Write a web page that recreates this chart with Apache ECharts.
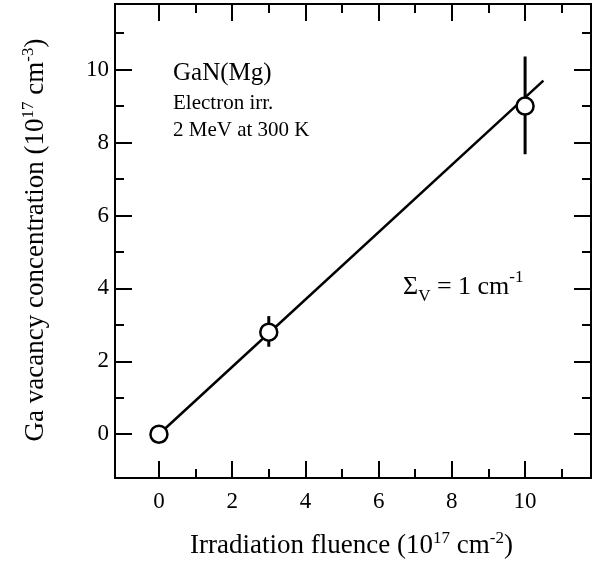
<!DOCTYPE html>
<html>
<head>
<meta charset="utf-8">
<script src="https://cdn.jsdelivr.net/npm/echarts@6/dist/echarts.min.js"></script>
<style>html,body{margin:0;padding:0;background:#fff}#c{width:597px;height:568px}</style>
</head>
<body>
<div id="c"></div>
<script>
// ---- data ----
const fluence = [0, 3, 10];
const concentration = [0, 2.8, 9.0];
const errLow = [0, 2.4, 7.68];
const errHigh = [0, 3.24, 10.36];
const fitX = [0, 10.5];
const fitY = [0, 9.7];
const xMajorTicks = [0, 2, 4, 6, 8, 10];
const xMinorTicks = [1, 3, 5, 7, 9, 11];
const yMajorTicks = [0, 2, 4, 6, 8, 10];
const yMinorTicks = [1, 3, 5, 7, 9, 11];
const xRange = [-1.2, 11.8];
const yRange = [-1.2, 11.8];

const FONT = '"Liberation Serif", "Times New Roman", serif';
const chart = echarts.init(document.getElementById('c'), null, {renderer: 'canvas'});

function mkAxis(kind, pos, ticks, len, labels, range) {
  return {
    type: 'value', position: pos, min: range[0], max: range[1],
    axisLine: {show: true, onZero: false, lineStyle: {color: '#000', width: 2}},
    axisTick: {show: true, inside: true, length: len, customValues: ticks, lineStyle: {color: '#000', width: 2}},
    axisLabel: labels ? {show: true, customValues: ticks, color: '#000', fontFamily: FONT, fontSize: 23,
      margin: kind === 'x' ? 12 : 6} : {show: false},
    splitLine: {show: false}
  };
}

const scatterData = fluence.map((x, i) => [x, concentration[i]]);
const errData = fluence.map((x, i) => [x, errLow[i], errHigh[i]]);
const fitData = fitX.map((x, i) => [x, fitY[i]]);

const supRich = {
  m: {fontSize: 27, fontFamily: FONT, lineHeight: 32, verticalAlign: 'middle', fill: '#000'},
  s: {fontSize: 17, fontFamily: FONT, lineHeight: 12, verticalAlign: 'top', fill: '#000'}
};

chart.setOption({
  animation: false,
  backgroundColor: '#fff',
  grid: {left: 115, right: 6, top: 4, bottom: 90, containLabel: false},
  xAxis: [
    mkAxis('x', 'bottom', xMajorTicks, 17, true, xRange),
    mkAxis('x', 'bottom', xMinorTicks, 9, false, xRange),
    mkAxis('x', 'top', xMajorTicks, 17, false, xRange),
    mkAxis('x', 'top', xMinorTicks, 9, false, xRange)
  ],
  yAxis: [
    mkAxis('y', 'left', yMajorTicks, 17, true, yRange),
    mkAxis('y', 'left', yMinorTicks, 9, false, yRange),
    mkAxis('y', 'right', yMajorTicks, 17, false, yRange),
    mkAxis('y', 'right', yMinorTicks, 9, false, yRange)
  ],
  series: [
    {
      type: 'line', data: fitData, showSymbol: false, symbol: 'none',
      lineStyle: {color: '#000', width: 2.5}, z: 2, silent: true
    },
    {
      type: 'custom', data: errData, z: 3, silent: true,
      renderItem: function (params, api) {
        const p1 = api.coord([api.value(0), api.value(1)]);
        const p2 = api.coord([api.value(0), api.value(2)]);
        return {type: 'line', shape: {x1: p1[0], y1: p1[1], x2: p2[0], y2: p2[1]},
          style: {stroke: '#000', lineWidth: 3}};
      }
    },
    {
      type: 'scatter', data: scatterData, symbol: 'circle', symbolSize: 17, z: 5,
      itemStyle: {color: '#fff', borderColor: '#000', borderWidth: 2.5, opacity: 1}
    }
  ],
  graphic: [
    {type: 'text', x: 173, y: 73.5, style: {text: 'GaN(Mg)', fontFamily: FONT, fontSize: 25, fill: '#000', verticalAlign: 'middle', align: 'left'}},
    {type: 'text', x: 173, y: 103, style: {text: 'Electron irr.', fontFamily: FONT, fontSize: 21, fill: '#000', verticalAlign: 'middle', align: 'left'}},
    {type: 'text', x: 173, y: 130, style: {text: '2 MeV at 300 K', fontFamily: FONT, fontSize: 21, fill: '#000', verticalAlign: 'middle', align: 'left'}},
    {type: 'text', x: 403, y: 287, style: {
      text: '{m|Σ}{b|V}{m| = 1 cm}{t|-1}', align: 'left', verticalAlign: 'middle',
      rich: {
        m: {fontSize: 26, fontFamily: FONT, lineHeight: 36, verticalAlign: 'middle', fill: '#000'},
        b: {fontSize: 17, fontFamily: FONT, lineHeight: 17, verticalAlign: 'bottom', fill: '#000'},
        t: {fontSize: 17, fontFamily: FONT, lineHeight: 17, verticalAlign: 'top', fill: '#000'}
      }
    }},
    {type: 'text', x: 351.5, y: 546, style: {
      text: '{m|Irradiation fluence (10}{s|17}{m| cm}{s|-2}{m|)}', align: 'center', verticalAlign: 'middle',
      rich: supRich
    }},
    {type: 'text', x: 36, y: 240, rotation: Math.PI / 2, style: {
      text: '{m|Ga vacancy concentration (10}{s|17}{m| cm}{s|-3}{m|)}', align: 'center', verticalAlign: 'middle',
      rich: supRich
    }}
  ]
});
</script>
</body>
</html>
